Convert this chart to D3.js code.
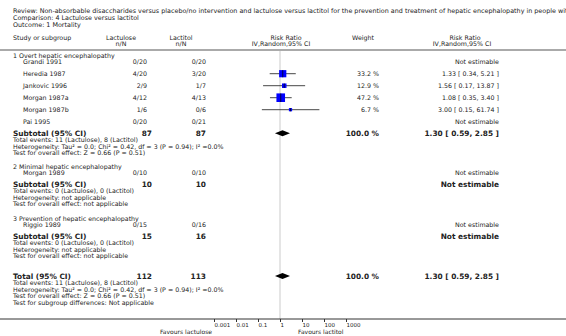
<!DOCTYPE html>
<html>
<head>
<meta charset="utf-8">
<script src="https://cdn.jsdelivr.net/npm/d3@7"></script>
<style>
  html, body { margin: 0; padding: 0; background: #fff; overflow: hidden; }
  svg { display: block; font-family: "DejaVu Sans", Verdana, sans-serif; }
</style>
</head>
<body>
<div id="chart"></div>
<script>
// ---- data ----
const titleLines = [
    "Review:  Non-absorbable disaccharides versus placebo/no intervention and lactulose versus lactitol for the prevention and treatment of hepatic encephalopathy in people with cirrhosis",
    "Comparison:  4 Lactulose versus lactitol",
    "Outcome:  1 Mortality"
];
const groupTitles = ["1 Overt hepatic encephalopathy", "2 Minimal hepatic encephalopathy", "3 Prevention of hepatic encephalopathy"];
const studyNames = ["Grandi 1991", "Heredia 1987", "Jankovic 1996", "Morgan 1987a", "Morgan 1987b", "Pai 1995", "Morgan 1989", "Riggio 1989"];
const studyGroup = [0, 0, 0, 0, 0, 0, 1, 2];
const lactuloseNN = ["0/20", "4/20", "2/9", "4/12", "1/6", "0/20", "0/10", "0/15"];
const lactitolNN = ["0/20", "3/20", "1/7", "4/13", "0/6", "0/21", "0/10", "0/16"];
const studyWeight = [null, 33.2, 12.9, 47.2, 6.7, null, null, null];
const studyRR = [null, 1.33, 1.56, 1.08, 3.00, null, null, null];
const studyLow = [null, 0.34, 0.17, 0.35, 0.15, null, null, null];
const studyHigh = [null, 5.21, 13.87, 3.40, 61.74, null, null, null];

const subLactulose = [87, 10, 15];
const subLactitol = [87, 10, 16];
const subWeight = [100.0, null, null];
const subRR = [1.30, null, null];
const subLow = [0.59, null, null];
const subHigh = [2.85, null, null];
const subEvents = ["Total events: 11 (Lactulose), 8 (Lactitol)", "Total events: 0 (Lactulose), 0 (Lactitol)", "Total events: 0 (Lactulose), 0 (Lactitol)"];
const subHetero = ["Heterogeneity: Tau\u00b2 = 0.0; Chi\u00b2 = 0.42, df = 3 (P = 0.94); I\u00b2 =0.0%", "Heterogeneity: not applicable", "Heterogeneity: not applicable"];
const subEffect = ["Test for overall effect: Z = 0.66 (P = 0.51)", "Test for overall effect: not applicable", "Test for overall effect: not applicable"];

const totalLactulose = 112, totalLactitol = 113;
const totalWeight = 100.0, totalRR = 1.30, totalLow = 0.59, totalHigh = 2.85;
const totalNotes = [
    "Total events: 11 (Lactulose), 8 (Lactitol)",
    "Heterogeneity: Tau\u00b2 = 0.0; Chi\u00b2 = 0.42, df = 3 (P = 0.94); I\u00b2 =0.0%",
    "Test for overall effect: Z = 0.66 (P = 0.51)",
    "Test for subgroup differences: Not applicable"
];
const axisTicks = [0.001, 0.01, 0.1, 1, 10, 100, 1000];
const favours = ["Favours lactulose", "Favours lactitol"];

// ---- layout ----
const width = 566, height = 336;
const col = { label: 13, study: 23, lacEnd: 147, lacBold: 152, litEnd: 206, wEnd: 379, rrEnd: 499 };
const textColor = "#222";
const fs = 6.3, fsBold = 7.4, fsTick = 5.5;

const x = d3.scaleLog().domain([0.001, 1000]).range([214, 346]);

const svg = d3.select("#chart").append("svg")
    .attr("width", width)
    .attr("height", height);

function txt(xPos, yPos, s, opts = {}) {
    return svg.append("text")
        .attr("x", xPos)
        .attr("y", yPos)
        .attr("dy", "0.35em")
        .attr("text-anchor", opts.anchor || "start")
        .style("font-size", (opts.size || fs) + "px")
        .style("font-weight", opts.bold ? "bold" : "normal")
        .style("fill", textColor)
        .text(s);
}

// title block (first line runs off the right edge, as in the source)
titleLines.forEach((t, i) => txt(col.label, 11 + i * 6.7, t, { size: 6.4 }));

// headers
const h1 = 37.5, h2 = 44;
txt(col.label, h1, "Study or subgroup");
txt(121, h1, "Lactulose", { anchor: "middle" });
txt(121, h2, "n/N", { anchor: "middle" });
txt(181, h1, "Lactitol", { anchor: "middle" });
txt(181, h2, "n/N", { anchor: "middle" });
txt(286, h1, "Risk Ratio", { anchor: "middle" });
txt(281, h2, "IV,Random,95% CI", { anchor: "middle" });
txt(363, h1, "Weight", { anchor: "middle" });
txt(465, h1, "Risk Ratio", { anchor: "middle" });
txt(462, h2, "IV,Random,95% CI", { anchor: "middle" });

svg.append("line")
    .attr("x1", 0).attr("x2", width)
    .attr("y1", 50).attr("y2", 50)
    .style("stroke", "#aaa").style("stroke-width", 2);

// reference line at RR = 1
svg.append("line")
    .attr("x1", x(1)).attr("x2", x(1))
    .attr("y1", 51).attr("y2", 319)
    .style("stroke", "#ddd").style("stroke-width", 1.5);

// y positions for each group's rows (text centres)
const groupTop = [55.5, 166.5, 218.5];
const studyStep = 12;
const size = d3.scaleSqrt().domain([0, 47.2]).range([0, 8.6]);
const fmt2 = d3.format(".2f");
const ciText = (r, lo, hi) => `${fmt2(r)} [ ${fmt2(lo)}, ${fmt2(hi)} ]`;

groupTitles.forEach((g, gi) => {
    let y = groupTop[gi];
    txt(col.label, y, g);
    y += 6.2;
    const idx = studyNames.map((_, i) => i).filter(i => studyGroup[i] === gi);
    idx.forEach((i, k) => {
        const yy = y + k * studyStep;
        txt(col.study, yy, studyNames[i]);
        txt(col.lacEnd, yy, lactuloseNN[i], { anchor: "end" });
        txt(col.litEnd, yy, lactitolNN[i], { anchor: "end" });
        if (studyRR[i] == null) {
            txt(col.rrEnd, yy, "Not estimable", { anchor: "end" });
        } else {
            txt(col.wEnd, yy, studyWeight[i].toFixed(1) + " %", { anchor: "end" });
            txt(col.rrEnd, yy, ciText(studyRR[i], studyLow[i], studyHigh[i]), { anchor: "end" });
            svg.append("line")
                .attr("x1", x(studyLow[i])).attr("x2", x(studyHigh[i]))
                .attr("y1", yy).attr("y2", yy)
                .style("stroke", "#333").style("stroke-width", 0.9);
            const s = size(studyWeight[i]);
            svg.append("rect")
                .attr("x", x(studyRR[i]) - s / 2).attr("y", yy - s / 2)
                .attr("width", s).attr("height", s)
                .style("fill", "#0000ff");
            svg.append("line")
                .attr("x1", x(studyRR[i])).attr("x2", x(studyRR[i]))
                .attr("y1", yy - s / 2).attr("y2", yy + s / 2)
                .style("stroke", "#000").style("stroke-width", 0.7);
        }
    });
    const ys = y + (idx.length - 1) * studyStep + 11.5;
    txt(col.label, ys, "Subtotal (95% CI)", { bold: true, size: fsBold });
    txt(col.lacBold, ys, subLactulose[gi], { anchor: "end", bold: true, size: fsBold });
    txt(col.litEnd, ys, subLactitol[gi], { anchor: "end", bold: true, size: fsBold });
    if (subRR[gi] == null) {
        txt(col.rrEnd, ys, "Not estimable", { anchor: "end", bold: true, size: fsBold });
    } else {
        txt(col.wEnd, ys, subWeight[gi].toFixed(1) + " %", { anchor: "end", bold: true, size: fsBold });
        txt(col.rrEnd, ys, ciText(subRR[gi], subLow[gi], subHigh[gi]), { anchor: "end", bold: true, size: fsBold });
        drawDiamond(ys, subRR[gi], subLow[gi], subHigh[gi]);
    }
    [subEvents[gi], subHetero[gi], subEffect[gi]].forEach((t, k) => txt(col.label, ys + 6.5 + k * 6.7, t));
});

function drawDiamond(yy, r, lo, hi) {
    svg.append("path")
        .attr("d", `M${x(lo)},${yy} L${x(r)},${yy - 3} L${x(hi)},${yy} L${x(r)},${yy + 3} Z`)
        .style("fill", "#000");
}

// overall total
const yt = 276;
txt(col.label, yt, "Total (95% CI)", { bold: true, size: fsBold });
txt(col.lacBold, yt, totalLactulose, { anchor: "end", bold: true, size: fsBold });
txt(col.litEnd, yt, totalLactitol, { anchor: "end", bold: true, size: fsBold });
txt(col.wEnd, yt, totalWeight.toFixed(1) + " %", { anchor: "end", bold: true, size: fsBold });
txt(col.rrEnd, yt, ciText(totalRR, totalLow, totalHigh), { anchor: "end", bold: true, size: fsBold });
drawDiamond(yt, totalRR, totalLow, totalHigh);
totalNotes.forEach((t, k) => txt(col.label, yt + 6.5 + k * 6.8, t));

// axis
const axisY = 319;
svg.append("line")
    .attr("x1", 0).attr("x2", width)
    .attr("y1", axisY).attr("y2", axisY)
    .style("stroke", "#333").style("stroke-width", 1);

const axis = svg.append("g")
    .attr("transform", `translate(0,${axisY})`)
    .call(d3.axisBottom(x).tickValues(axisTicks).tickSize(3).tickFormat(d => String(d)));
axis.select(".domain").remove();
axis.selectAll(".tick line").style("stroke", "#333");
axis.selectAll(".tick text")
    .attr("text-anchor", "start")
    .attr("y", 4)
    .style("font-family", "DejaVu Sans, sans-serif")
    .style("font-size", fsTick + "px")
    .style("fill", textColor);

txt(x(0.001) - 2, 331.5, favours[0], { anchor: "end", size: 6 });
txt(x(10) - 4, 331.5, favours[1], { size: 6 });
</script>
</body>
</html>
